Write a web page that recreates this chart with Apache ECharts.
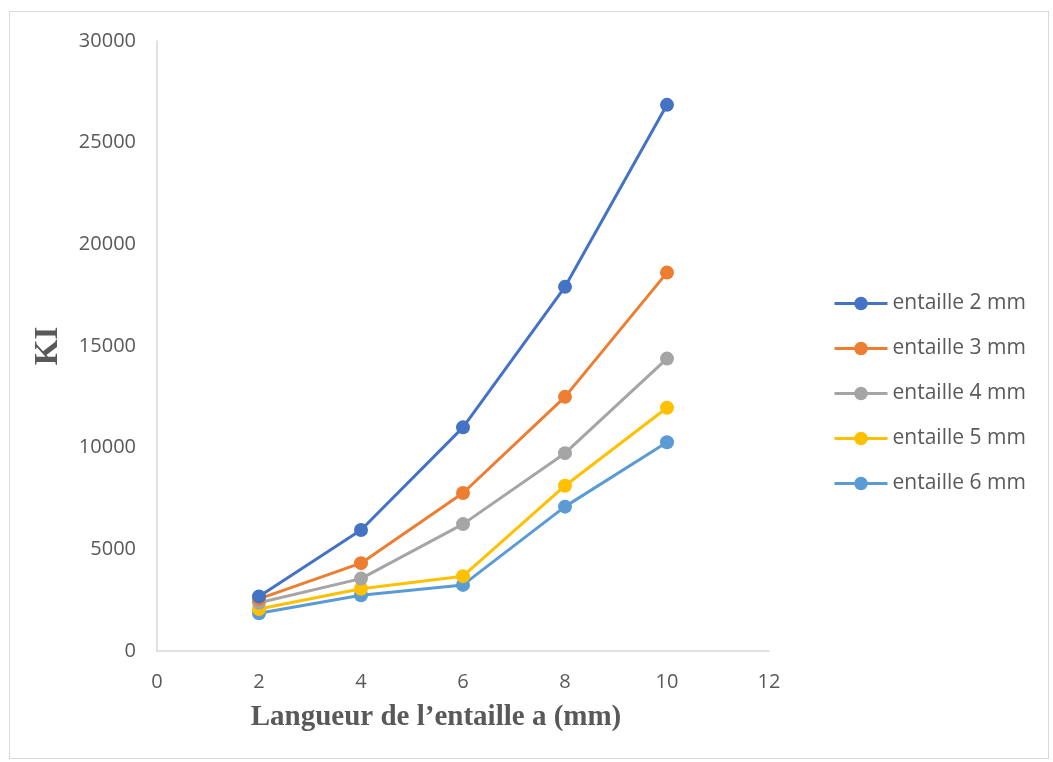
<!DOCTYPE html>
<html>
<head>
<meta charset="utf-8">
<script src="https://cdn.jsdelivr.net/npm/echarts@6/dist/echarts.min.js"></script>
<style>
html,body{margin:0;padding:0;background:#fff;}
#frame{position:absolute;left:9px;top:11px;width:1040px;height:748px;border:1px solid #d9d9d9;box-sizing:border-box;}
#c{position:absolute;left:0;top:0;width:1053px;height:762px;}
</style>
</head>
<body>
<div id="frame"></div>
<div id="c"></div>
<script>
const xValues = [2, 4, 6, 8, 10];
const seriesNames = ['entaille 2 mm', 'entaille 3 mm', 'entaille 4 mm', 'entaille 5 mm', 'entaille 6 mm'];
const e2 = [2680, 5950, 11000, 17910, 26860];
const e3 = [2560, 4320, 7770, 12500, 18610];
const e4 = [2370, 3560, 6240, 9730, 14380];
const e5 = [2066, 3060, 3680, 8130, 11960];
const e6 = [1852, 2740, 3250, 7100, 10270];
const yTicks = [0, 5000, 10000, 15000, 20000, 25000, 30000];
const xTicks = [0, 2, 4, 6, 8, 10, 12];
const colors = ['#4472C4', '#ED7D31', '#A5A5A5', '#FFC000', '#5B9BD5'];

const allData = [e2, e3, e4, e5, e6];
const chart = echarts.init(document.getElementById('c'), null, {renderer: 'canvas'});
chart.setOption({
  animation: false,
  backgroundColor: 'transparent',
  grid: {left: 157, right: 284, top: 41, bottom: 111, containLabel: false},
  legend: {
    orient: 'vertical',
    left: 828,
    top: 288,
    itemGap: 24,
    itemWidth: 53,
    itemHeight: 17,
    lineStyle: {width: 3},
    textStyle: {color: '#595959', fontSize: 21, fontFamily: 'Open Sans, Liberation Sans, sans-serif'},
    data: seriesNames
  },
  xAxis: {
    type: 'value',
    min: xTicks[0], max: xTicks[xTicks.length-1], interval: 2,
    name: 'Langueur de l\u2019entaille a (mm)',
    nameLocation: 'middle',
    nameGap: 52,
    nameTextStyle: {fontFamily: 'Liberation Serif, serif', fontWeight: 'bold', fontSize: 29, color: '#595959',
      padding: [0, 54, 0, 0]},
    axisLine: {show: true, lineStyle: {color: '#d9d9d9', width: 1.5}},
    axisTick: {show: false},
    splitLine: {show: false},
    axisLabel: {color: '#595959', fontSize: 20, fontFamily: 'Open Sans, Liberation Sans, sans-serif', margin: 21}
  },
  yAxis: {
    type: 'value',
    min: yTicks[0], max: yTicks[yTicks.length-1], interval: 5000,
    name: 'KI',
    nameLocation: 'middle',
    nameGap: 92,
    nameRotate: 90,
    nameTextStyle: {fontFamily: 'Liberation Serif, serif', fontWeight: 'bold', fontSize: 33, color: '#595959'},
    axisLine: {show: true, lineStyle: {color: '#d9d9d9', width: 1.5}},
    axisTick: {show: false},
    splitLine: {show: false},
    axisLabel: {color: '#595959', fontSize: 20, fontFamily: 'Open Sans, Liberation Sans, sans-serif', margin: 21,
      formatter: v => String(v)}
  },
  series: allData.map((d, i) => ({
    name: seriesNames[i],
    type: 'line',
    data: xValues.map((x, j) => [x, d[j]]),
    symbol: 'circle',
    symbolSize: 14,
    lineStyle: {width: 3, color: colors[i]},
    itemStyle: {color: colors[i]},
    z: 10 - i
  }))
});
</script>
</body>
</html>
